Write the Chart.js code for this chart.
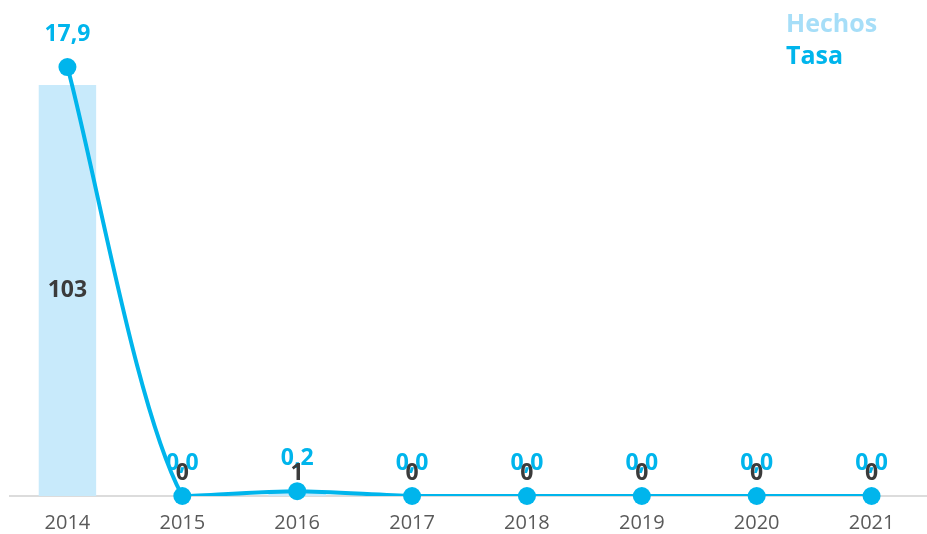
<!DOCTYPE html>
<html>
<head>
<meta charset="utf-8">
<script src="https://cdn.jsdelivr.net/npm/chart.js@4.4.1/dist/chart.umd.min.js"></script>
<style>
    html, body { margin: 0; padding: 0; background: #fff; overflow: hidden; }
    #wrap { width: 938px; height: 553px; position: relative; }
</style>
</head>
<body>
<div id="wrap"><canvas id="chart"></canvas></div>
<script>
// Chart data
const years = ['2014', '2015', '2016', '2017', '2018', '2019', '2020', '2021'];
const hechos = [103, 0, 1, 0, 0, 0, 0, 0];
const tasa = [17.9, 0, 0.2, 0, 0, 0, 0, 0];

const barColor = '#c8eafb';
const lineColor = '#00b5ec';
const legendItems = [
    { text: 'Hechos', color: '#a6def8' },
    { text: 'Tasa', color: '#00b5ec' }
];

// Formats a number with a comma as decimal separator
function fmt(v, decimals) {
    return v.toFixed(decimals).replace('.', ',');
}

// Draws value labels and the legend on top of the chart
const labelsPlugin = {
    id: 'valueLabels',
    afterDatasetsDraw(chart) {
        const ctx = chart.ctx;
        const base = chart.scales.y.getPixelForValue(0);
        ctx.save();
        ctx.textAlign = 'center';
        ctx.textBaseline = 'middle';

        // Tasa labels
        ctx.font = 'bold 23px "Open Sans"';
        ctx.fillStyle = lineColor;
        chart.getDatasetMeta(1).data.forEach((pt, i) => {
            ctx.fillText(fmt(tasa[i], 1), pt.x, pt.y - 33);
        });

        // Hechos labels
        ctx.fillStyle = '#3b3b3b';
        chart.getDatasetMeta(0).data.forEach((bar, i) => {
            const mid = (bar.y + base) / 2;
            ctx.fillText(String(hechos[i]), bar.x, Math.min(mid, base - 23));
        });

        // Legend
        ctx.textAlign = 'left';
        ctx.font = 'bold 25px "Open Sans"';
        legendItems.forEach((item, i) => {
            ctx.fillStyle = item.color;
            ctx.fillText(item.text, 786, 25 + i * 32);
        });
        ctx.restore();
    }
};

const ctx = document.getElementById('chart').getContext('2d');
new Chart(ctx, {
    data: {
        labels: years,
        datasets: [
            {
                type: 'bar',
                label: 'Hechos',
                data: hechos,
                backgroundColor: barColor,
                barPercentage: 0.5,
                categoryPercentage: 1,
                yAxisID: 'y',
                order: 2
            },
            {
                type: 'line',
                label: 'Tasa',
                data: tasa,
                borderColor: lineColor,
                borderWidth: 4,
                tension: 0.25,
                pointRadius: 0,
                clip: { left: false, right: false, top: false, bottom: 0 },
                yAxisID: 'y1',
                order: 1
            },
            {
                type: 'line',
                label: 'Tasa puntos',
                data: tasa,
                showLine: false,
                pointRadius: 9,
                pointBackgroundColor: lineColor,
                pointBorderWidth: 0,
                clip: false,
                yAxisID: 'y1',
                order: 0
            }
        ]
    },
    options: {
        responsive: true,
        maintainAspectRatio: false,
        animation: false,
        layout: { padding: { left: 10, right: 0, top: 40, bottom: 3 } },
        plugins: {
            legend: { display: false },
            tooltip: { enabled: false }
        },
        scales: {
            x: {
                grid: { display: false, drawTicks: false },
                border: { color: '#dcdcdc', width: 2 },
                ticks: { color: '#5a5a5a', font: { family: 'Open Sans', size: 20 }, padding: 15 }
            },
            y: {
                display: false,
                min: 0,
                max: 114.3
            },
            y1: {
                display: false,
                min: 0,
                max: 19.03
            }
        }
    },
    plugins: [labelsPlugin]
});
</script>
</body>
</html>
